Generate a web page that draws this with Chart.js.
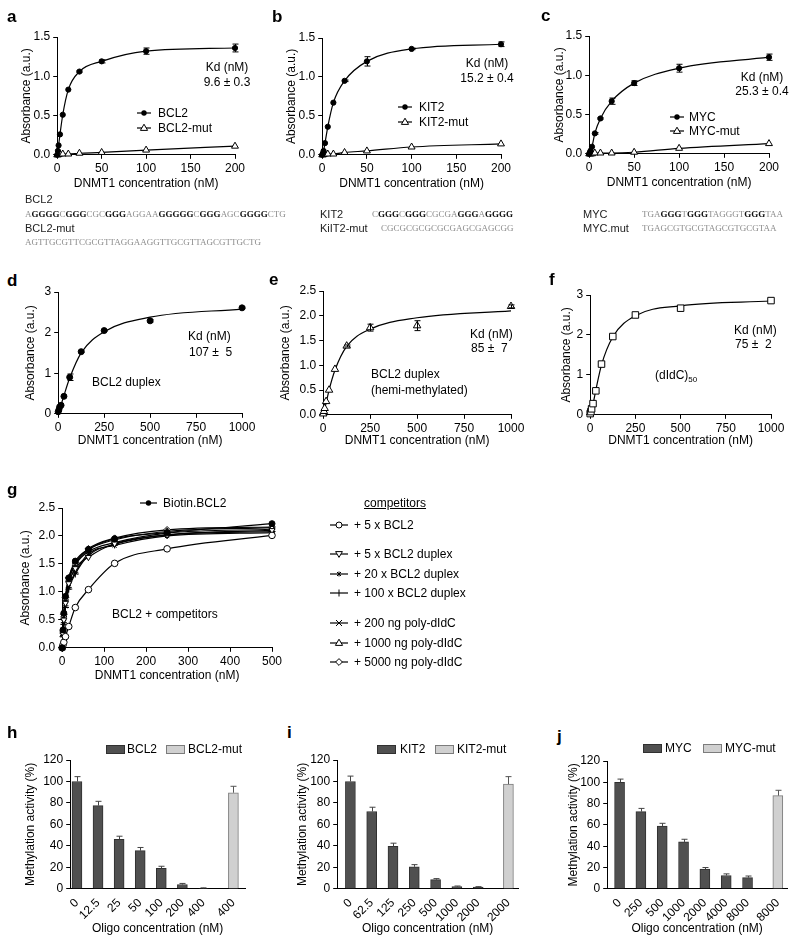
<!DOCTYPE html>
<html><head><meta charset="utf-8">
<title>DNMT1 binding and methylation inhibition</title>
<script src="https://cdn.jsdelivr.net/npm/chart.js@4.4.1/dist/chart.umd.min.js"></script>
<style>
html,body{margin:0;padding:0;background:#fff;}
#page{position:relative;width:800px;height:948px;overflow:hidden;font-family:"Liberation Sans",Arial,sans-serif;color:#000;}
#page canvas{position:absolute;}
.tx{position:absolute;white-space:pre;font-size:12px;line-height:14px;}
.pl{position:absolute;font-weight:bold;font-size:17px;line-height:18px;}
.sq{position:absolute;white-space:pre;font-family:"Liberation Serif","Times New Roman",serif;font-size:9px;line-height:11px;color:#8c8c8c;}
.sq b{color:#111;}
.sl{position:absolute;white-space:pre;font-size:11px;line-height:12px;color:#222;}
.ic{position:absolute;overflow:visible;}
.box{position:absolute;height:7px;width:18px;}
</style></head><body><div id="page"></div>
<script>
// ===================== DATA =====================
// panels a-c : single-stranded G-quadruplex oligos
const concABC = [0, 0.78, 1.56, 3.125, 6.25, 12.5, 25, 50, 100, 200];
const bcl2    = [0, 0.05, 0.12, 0.26, 0.51, 0.83, 1.06, 1.19, 1.32, 1.36];
const bcl2Err = [0, 0, 0, 0, 0, 0, 0.01, 0.02, 0.04, 0.05];
const bcl2Mut = [0, 0.00, 0.01, 0.01, 0.01, 0.01, 0.02, 0.03, 0.06, 0.11];
const kit2    = [0, 0.02, 0.05, 0.15, 0.36, 0.67, 0.95, 1.20, 1.36, 1.42];
const kit2Err = [0, 0, 0, 0, 0, 0, 0.01, 0.06, 0.01, 0.03];
const kit2Mut = [0, 0.00, 0.01, 0.01, 0.01, 0.01, 0.03, 0.05, 0.10, 0.14];
const myc     = [0, 0.02, 0.04, 0.09, 0.26, 0.45, 0.67, 0.90, 1.09, 1.23];
const mycErr  = [0, 0, 0, 0, 0.01, 0.01, 0.04, 0.03, 0.05, 0.04];
const mycMut  = [0, 0.00, 0.00, 0.00, 0.01, 0.01, 0.01, 0.02, 0.07, 0.13];

// panels d-f : duplex / hemi-methylated / (dIdC)50
const concDEF   = [0, 3.9, 7.8, 15.6, 31.25, 62.5, 125, 250, 500, 1000];
const duplex    = [0.05, 0.10, 0.17, 0.21, 0.43, 0.90, 1.53, 2.05, 2.29, 2.61];
const duplexErr = [0, 0, 0, 0, 0, 0.08, 0.02, 0.02, 0.03, 0.02];
const duplexFit = [0, 0.05, 0.11, 0.22, 0.45, 0.88, 1.50, 2.02, 2.38, 2.58];
const hemi      = [0.02, 0.07, 0.13, 0.27, 0.50, 0.92, 1.39, 1.76, 1.80, 2.19];
const hemiErr   = [0, 0, 0, 0, 0, 0, 0.02, 0.07, 0.10, 0.03];
const hemiFit   = [0, 0.05, 0.11, 0.24, 0.50, 0.90, 1.38, 1.73, 1.96, 2.10];
const didc      = [0.03, 0.08, 0.15, 0.28, 0.60, 1.27, 1.96, 2.50, 2.67, 2.86];
const didcFit   = [0, 0.06, 0.13, 0.27, 0.62, 1.25, 1.95, 2.48, 2.73, 2.85];

// panel g : competition
const concG       = [0, 1.95, 3.9, 7.8, 15.6, 31.25, 62.5, 125, 250, 500];
const gBiotin     = [0, 0.32, 0.62, 0.92, 1.25, 1.55, 1.76, 1.95, 2.06, 2.22];
const g5xBcl2     = [0, 0.05, 0.10, 0.20, 0.38, 0.72, 1.04, 1.51, 1.77, 2.01];
const g5xDuplex   = [0, 0.25, 0.50, 0.80, 1.15, 1.42, 1.62, 1.86, 2.02, 2.10];
const g20xDuplex  = [0, 0.22, 0.45, 0.75, 1.08, 1.35, 1.68, 1.83, 2.00, 2.06];
const g100xDuplex = [0, 0.20, 0.42, 0.72, 1.05, 1.32, 1.65, 1.85, 2.02, 2.08];
const g200ng      = [0, 0.30, 0.55, 0.85, 1.20, 1.48, 1.72, 1.88, 2.05, 2.12];
const g1000ng     = [0, 0.28, 0.58, 0.88, 1.22, 1.50, 1.75, 1.93, 2.08, 2.15];
const g5000ng     = [0, 0.30, 0.60, 0.90, 1.25, 1.52, 1.77, 1.96, 2.11, 2.16];

// panels h-j : methylation activity (%)
const hLabels    = ['0', '12.5', '25', '50', '100', '200', '400', '400'];
const hBcl2      = [100, 77.5, 46, 35.5, 19, 4, 0.5];
const hBcl2Err   = [4.5, 4, 3, 3, 2, 1, 0.4];
const hBcl2Mut   = [89.5];
const hBcl2MutErr= [6];
const iLabels    = ['0', '62.5', '125', '250', '500', '1000', '2000', '2000'];
const iKit2      = [100, 72, 39.5, 20.5, 8.5, 2, 1.5];
const iKit2Err   = [5, 4, 3, 2, 1, 0.6, 0.5];
const iKit2Mut   = [97.5];
const iKit2MutErr= [7];
const jLabels    = ['0', '250', '500', '1000', '2000', '4000', '8000', '8000'];
const jMyc       = [100, 72.5, 59, 44, 18.5, 12.5, 10.5];
const jMycErr    = [3, 3, 2.5, 2.5, 1.5, 1.5, 1.5];
const jMycMut    = [87.5];
const jMycMutErr = [5];

// ===================== HELPERS =====================
Chart.defaults.font.family = '"Liberation Sans", Arial, sans-serif';
Chart.defaults.font.size = 12;
Chart.defaults.color = '#000';
const page = document.getElementById('page');

const errPlugin = {
  id: 'errbars',
  afterDatasetsDraw(chart) {
    const ctx = chart.ctx, ys = chart.scales.y;
    chart.data.datasets.forEach((ds, di) => {
      if (!ds.errors) return;
      const meta = chart.getDatasetMeta(di);
      ctx.save();
      ctx.strokeStyle = ds.errColor || '#000';
      ctx.lineWidth = 1;
      meta.data.forEach((el, i) => {
        const e = ds.errors[i];
        if (!e) return;
        const v = ds.data[i].y;
        const x = Math.round(el.x) + 0.5;
        const yt = ys.getPixelForValue(v + e);
        const yb = ds.errUp ? el.y : ys.getPixelForValue(v - e);
        const c = ds.capW || 3;
        ctx.beginPath();
        ctx.moveTo(x, yt); ctx.lineTo(x, yb);
        ctx.moveTo(x - c, yt); ctx.lineTo(x + c, yt);
        if (!ds.errUp) { ctx.moveTo(x - c, yb); ctx.lineTo(x + c, yb); }
        ctx.stroke();
      });
      ctx.restore();
    });
  }
};

function pts(xs, ys) { return xs.map((x, i) => ({ x: x, y: ys[i] })); }

function axis(o) {
  const a = {
    type: 'linear', min: o.min, max: o.max, offset: false,
    grid: { drawOnChartArea: false, drawTicks: true, tickLength: 4, color: '#000',
            tickColor: o.noTicks ? 'rgba(0,0,0,0)' : '#000', lineWidth: 1, offset: false },
    border: { display: true, color: '#000', width: 1 },
    ticks: { color: '#000', padding: 3, font: { size: 12 }, autoSkip: false,
             maxRotation: o.rot || 0, minRotation: o.rot || 0 },
    title: { display: true, text: o.title, color: '#000', font: { size: 12 }, padding: { top: 4, bottom: 4 } },
    afterFit: o.fit
  };
  if (o.step !== undefined) a.ticks.stepSize = o.step;
  if (o.fmt) a.ticks.callback = o.fmt;
  if (o.build) a.afterBuildTicks = o.build;
  return a;
}

// b: plot box L,T,R,B ; yTitle center x ; xTitle center y ; pt/pr paddings
function makeChart(b, type, datasets, xo, yo) {
  const yw = b.L - b.ytx + 11.2;
  const xh = b.xty - b.B + 11.2;
  const pt = b.pt || 12, pr = b.pr || 24;
  const left = b.L - yw, top = b.T - pt;
  const w = Math.round(b.R + pr - left), h = Math.round(b.B + xh - top);
  const cv = document.createElement('canvas');
  cv.width = w; cv.height = h;
  cv.style.left = left + 'px'; cv.style.top = top + 'px';
  cv.style.width = w + 'px'; cv.style.height = h + 'px';
  page.appendChild(cv);
  xo.fit = s => { s.height = xh; };
  yo.fit = s => { s.width = yw; };
  return new Chart(cv, {
    type: type,
    data: { datasets: datasets },
    options: {
      responsive: false, animation: false, devicePixelRatio: 1,
      layout: { padding: { top: pt, right: pr, left: 0, bottom: 0 } },
      plugins: { legend: { display: false }, tooltip: { enabled: false } },
      scales: { x: axis(xo), y: axis(yo) }
    },
    plugins: [errPlugin]
  });
}

function pointSet(label, xs, ys, style, extra) {
  return Object.assign({
    label: label, data: pts(xs, ys), showLine: false, clip: false,
    pointStyle: style.shape, pointRadius: style.r, pointRotation: style.rot || 0,
    pointBackgroundColor: style.fill, pointBorderColor: '#000', pointBorderWidth: 1,
    backgroundColor: style.fill, borderColor: '#000'
  }, extra || {});
}
function curveSet(label, xs, ys) {
  return {
    label: label, data: pts(xs, ys), showLine: true, pointRadius: 0, clip: false,
    borderColor: '#000', borderWidth: 1.2, cubicInterpolationMode: 'monotone', fill: false
  };
}
const DOT = { shape: 'circle', r: 2.6, fill: '#000' };
const TRI = { shape: 'triangle', r: 4, fill: '#fff' };
const f1 = v => v.toFixed(1);
const f0 = v => String(v);

// ===================== PANELS a-c =====================
const absTitle = 'Absorbance (a.u.)';
const dnmtTitle = 'DNMT1 concentration (nM)';
function bindPanel(box, name, vals, err, mutName, mut) {
  makeChart(box, 'scatter', [
    pointSet(name, concABC, vals, DOT, { errors: err }),
    pointSet(mutName, concABC, mut, TRI),
    curveSet(name + ' fit', concABC, vals),
    curveSet(mutName + ' fit', concABC, mut)
  ], { min: 0, max: 200, step: 50, title: dnmtTitle, fmt: f0 },
     { min: 0, max: 1.5, step: 0.5, title: absTitle, fmt: f1 });
}
bindPanel({ L: 57, T: 37, R: 235, B: 155, ytx: 26, xty: 184 }, 'BCL2', bcl2, bcl2Err, 'BCL2-mut', bcl2Mut);
bindPanel({ L: 322, T: 38, R: 501, B: 155, ytx: 291, xty: 184 }, 'KIT2', kit2, kit2Err, 'KIT2-mut', kit2Mut);
bindPanel({ L: 589, T: 36, R: 769, B: 154, ytx: 559, xty: 183 }, 'MYC', myc, mycErr, 'MYC-mut', mycMut);

// ===================== PANELS d-f =====================
makeChart({ L: 58, T: 292, R: 242, B: 414, ytx: 30, xty: 441 }, 'scatter', [
  pointSet('BCL2 duplex', concDEF, duplex, { shape: 'circle', r: 3, fill: '#000' }, { errors: duplexErr }),
  curveSet('fit', concDEF, duplexFit)
], { min: 0, max: 1000, step: 250, title: dnmtTitle, fmt: f0 },
   { min: 0, max: 3, step: 1, title: absTitle, fmt: f0 });

makeChart({ L: 323, T: 291, R: 511, B: 415, ytx: 285, xty: 441 }, 'scatter', [
  pointSet('BCL2 duplex (hemi-methylated)', concDEF, hemi, { shape: 'triangle', r: 4.3, fill: '#fff' }, { errors: hemiErr }),
  curveSet('fit', concDEF, hemiFit)
], { min: 0, max: 1000, step: 250, title: dnmtTitle, fmt: f0 },
   { min: 0, max: 2.5, step: 0.5, title: absTitle, fmt: f1 });

makeChart({ L: 590, T: 295, R: 771, B: 415, ytx: 566, xty: 441, pr: 22 }, 'scatter', [
  pointSet('(dIdC)50', concDEF, didc, { shape: 'rect', r: 4.6, fill: '#fff' }),
  curveSet('fit', concDEF, didcFit)
], { min: 0, max: 1000, step: 250, title: dnmtTitle, fmt: f0 },
   { min: 0, max: 3, step: 1, title: absTitle, fmt: f0 });

// ===================== PANEL g =====================
const gSeries = [
  ['Biotin.BCL2', gBiotin, { shape: 'circle', r: 3, fill: '#000' }],
  ['+ 5 x BCL2', g5xBcl2, { shape: 'circle', r: 3.3, fill: '#fff' }],
  ['+ 5 x BCL2 duplex', g5xDuplex, { shape: 'triangle', r: 3.5, fill: '#fff', rot: 180 }],
  ['+ 20 x BCL2 duplex', g20xDuplex, { shape: 'star', r: 3, fill: '#000' }],
  ['+ 100 x BCL2 duplex', g100xDuplex, { shape: 'cross', r: 3.5, fill: '#000' }],
  ['+ 200 ng poly-dIdC', g200ng, { shape: 'crossRot', r: 3.5, fill: '#000' }],
  ['+ 1000 ng poly-dIdC', g1000ng, { shape: 'triangle', r: 3.5, fill: '#fff' }],
  ['+ 5000 ng poly-dIdC', g5000ng, { shape: 'rectRot', r: 3.3, fill: '#fff' }]
];
const gSets = gSeries.map(s => pointSet(s[0], concG, s[1], s[2]));
gSeries.forEach(s => gSets.push(curveSet(s[0] + ' fit', concG, s[1])));
makeChart({ L: 62, T: 508, R: 272, B: 648, ytx: 25, xty: 676 }, 'scatter', gSets,
  { min: 0, max: 500, step: 100, title: dnmtTitle, fmt: f0 },
  { min: 0, max: 2.5, step: 0.5, title: absTitle, fmt: f1 });

// ===================== PANELS h-j =====================
const GAP = 0.42;
function barPanel(box, labels, vals, err, mutVal, mutErr, xmin, xmax) {
  const n = vals.length;
  const slots = vals.map((v, i) => i).concat([n + GAP]);
  makeChart(box, 'bar', [
    { label: 'wt', data: vals.map((v, i) => ({ x: slots[i], y: v })), errors: err, errUp: true,
      errColor: '#444', backgroundColor: '#505050', borderColor: '#303030', borderWidth: 1,
      barThickness: 10, grouped: false, clip: false },
    { label: 'mut', data: mutVal.map(v => ({ x: slots[n], y: v })), errors: mutErr, errUp: true,
      errColor: '#555', backgroundColor: '#d0d0d0', borderColor: '#7c7c7c', borderWidth: 1,
      barThickness: 10, grouped: false, clip: false }
  ], { min: xmin, max: xmax, title: 'Oligo concentration (nM)', rot: 45, noTicks: true,
       build: s => { s.ticks = slots.map(v => ({ value: v })); },
       fmt: (v, i) => labels[i] },
     { min: 0, max: 120, step: 20, title: 'Methylation activity (%)', fmt: f0 });
}
barPanel({ L: 70, T: 760, R: 245, B: 889, ytx: 30, xty: 929, pr: 10 }, hLabels, hBcl2, hBcl2Err, hBcl2Mut, hBcl2MutErr, -0.32, 7.97);
barPanel({ L: 337, T: 760, R: 518, B: 889, ytx: 302, xty: 929, pr: 10 }, iLabels, iKit2, iKit2Err, iKit2Mut, iKit2MutErr, -0.62, 7.87);
barPanel({ L: 607, T: 761, R: 787, B: 889, ytx: 573, xty: 929, pr: 10 }, jLabels, jMyc, jMycErr, jMycMut, jMycMutErr, -0.58, 7.85);

// ===================== TEXT & LEGENDS =====================
function T(cls, html, x, y, align, style) {
  const d = document.createElement('div');
  d.className = cls;
  d.innerHTML = html;
  d.style.left = x + 'px';
  d.style.top = y + 'px';
  let tr = 'translateY(-50%)';
  if (align === 'c') tr = 'translate(-50%,-50%)';
  d.style.transform = tr;
  if (style) d.setAttribute('style', d.getAttribute('style') + ';' + style);
  page.appendChild(d);
}
function icon(kind, x, y, w) {
  w = w || 14;
  const cx = w / 2, cy = 6;
  let m = '';
  const S = 'stroke="#000" stroke-width="1"';
  if (kind === 'dot') m = `<circle cx="${cx}" cy="${cy}" r="2.7" fill="#000"/>`;
  if (kind === 'tri') m = `<polygon points="${cx},${cy - 3.8} ${cx + 3.6},${cy + 2.4} ${cx - 3.6},${cy + 2.4}" fill="#fff" ${S}/>`;
  if (kind === 'ocirc') m = `<circle cx="${cx}" cy="${cy}" r="3" fill="#fff" ${S}/>`;
  if (kind === 'dtri') m = `<polygon points="${cx},${cy + 3.4} ${cx + 3.4},${cy - 2.4} ${cx - 3.4},${cy - 2.4}" fill="#fff" ${S}/>`;
  if (kind === 'star') m = `<line x1="${cx - 2}" y1="${cy - 2}" x2="${cx + 2}" y2="${cy + 2}" ${S}/><line x1="${cx + 2}" y1="${cy - 2}" x2="${cx - 2}" y2="${cy + 2}" ${S}/><line x1="${cx}" y1="${cy - 2.5}" x2="${cx}" y2="${cy + 2.5}" ${S}/>`;
  if (kind === 'plus') m = `<line x1="${cx}" y1="${cy - 3.5}" x2="${cx}" y2="${cy + 3.5}" ${S}/>`;
  if (kind === 'x') m = `<line x1="${cx - 3}" y1="${cy - 3}" x2="${cx + 3}" y2="${cy + 3}" ${S}/><line x1="${cx + 3}" y1="${cy - 3}" x2="${cx - 3}" y2="${cy + 3}" ${S}/>`;
  if (kind === 'diam') m = `<polygon points="${cx},${cy - 3.4} ${cx + 3.4},${cy} ${cx},${cy + 3.4} ${cx - 3.4},${cy}" fill="#fff" ${S}/>`;
  const svg = `<svg class="ic" style="left:${x}px;top:${y - 6}px" width="${w}" height="12"><line x1="0" y1="6" x2="${w}" y2="6" stroke="#000" stroke-width="1.2"/>${m}</svg>`;
  page.insertAdjacentHTML('beforeend', svg);
}
function box(x, y, w, fill, stroke) {
  const d = document.createElement('div');
  d.className = 'box';
  d.style.left = x + 'px'; d.style.top = (y - 4) + 'px'; d.style.width = w + 'px';
  d.style.background = fill; d.style.border = '1px solid ' + stroke;
  page.appendChild(d);
}

// panel letters
[['a', 7, 17], ['b', 272, 17], ['c', 541, 16], ['d', 7, 281], ['e', 269, 280], ['f', 549, 280],
 ['g', 7, 490], ['h', 7, 733], ['i', 287, 733], ['j', 557, 737]].forEach(p => T('pl', p[0], p[1], p[2]));

// Kd annotations
T('tx', 'Kd (nM)', 227, 67, 'c'); T('tx', '9.6 ± 0.3', 227, 82, 'c');
T('tx', 'Kd (nM)', 487, 63, 'c'); T('tx', '15.2 ± 0.4', 487, 78, 'c');
T('tx', 'Kd (nM)', 762, 77, 'c'); T('tx', '25.3 ± 0.4', 762, 91, 'c');
T('tx', 'Kd (nM)', 188, 336); T('tx', '107 ±  5', 189, 352);
T('tx', 'BCL2 duplex', 92, 382);
T('tx', 'Kd (nM)', 470, 334); T('tx', '85 ±  7', 471, 348);
T('tx', 'BCL2 duplex', 371, 374); T('tx', '(hemi-methylated)', 371, 390);
T('tx', 'Kd (nM)', 734, 330); T('tx', '75 ±  2', 735, 344);
T('tx', '(dIdC)<span style="font-size:8px;vertical-align:-3px">50</span>', 655, 377);
T('tx', 'BCL2 + competitors', 112, 614);

// a-c legends
icon('dot', 137, 113); T('tx', 'BCL2', 158, 113);
icon('tri', 137, 128); T('tx', 'BCL2-mut', 158, 128);
icon('dot', 398, 107); T('tx', 'KIT2', 419, 107);
icon('tri', 398, 122); T('tx', 'KIT2-mut', 419, 122);
icon('dot', 670, 117); T('tx', 'MYC', 689, 117);
icon('tri', 670, 131); T('tx', 'MYC-mut', 689, 131);

// sequences
T('sl', 'BCL2', 25, 199);
T('sq', 'A<b>GGGG</b>C<b>GGG</b>CGC<b>GGG</b>AGGAA<b>GGGGG</b>C<b>GGG</b>AGC<b>GGGG</b>CTG', 25, 214);
T('sl', 'BCL2-mut', 25, 228);
T('sq', 'AGTTGCGTTCGCGTTAGGAAGGTTGCGTTAGCGTTGCTG', 25, 242);
T('sl', 'KIT2', 320, 214);
T('sq', 'C<b>GGG</b>C<b>GGG</b>CGCGA<b>GGG</b>A<b>GGGG</b>', 372, 214);
T('sl', 'KiIT2-mut', 320, 228);
T('sq', 'CGCGCGCGCGCGAGCGAGCGG', 381, 228);
T('sl', 'MYC', 583, 214);
T('sq', 'TGA<b>GGG</b>T<b>GGG</b>TAGGGT<b>GGG</b>TAA', 642, 214);
T('sl', 'MYC.mut', 583, 228);
T('sq', 'TGAGCGTGCGTAGCGTGCGTAA', 642, 228);

// g legends
icon('dot', 140, 503, 17); T('tx', 'Biotin.BCL2', 163, 503);
T('tx', 'competitors', 364, 503, null, 'text-decoration:underline');
const compIcons = ['ocirc', 'dtri', 'star', 'plus', 'x', 'tri', 'diam'];
const compY = [525, 554, 574, 593, 623, 643, 662];
gSeries.slice(1).forEach((s, i) => { icon(compIcons[i], 330, compY[i], 18); T('tx', s[0], 354, compY[i]); });

// bar legends
box(106, 749, 17, '#505050', '#303030'); T('tx', 'BCL2', 127, 749);
box(166, 749, 17, '#d0d0d0', '#7c7c7c'); T('tx', 'BCL2-mut', 188, 749);
box(377, 749, 17, '#505050', '#303030'); T('tx', 'KIT2', 400, 749);
box(435, 749, 17, '#d0d0d0', '#7c7c7c'); T('tx', 'KIT2-mut', 457, 749);
box(643, 748, 17, '#505050', '#303030'); T('tx', 'MYC', 665, 748);
box(703, 748, 17, '#d0d0d0', '#7c7c7c'); T('tx', 'MYC-mut', 725, 748);
</script></body></html>
